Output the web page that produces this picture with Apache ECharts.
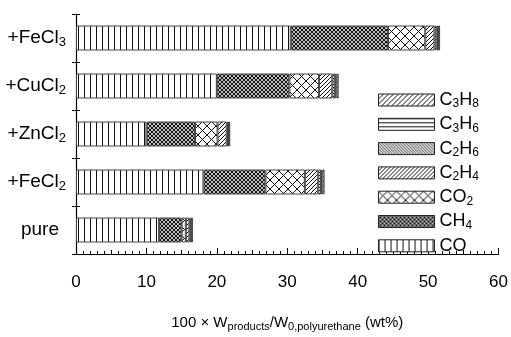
<!DOCTYPE html>
<html><head><meta charset="utf-8">
<script src="https://cdn.jsdelivr.net/npm/echarts@6/dist/echarts.min.js"></script>
<style>html,body{margin:0;padding:0;background:#fff}#c{width:511px;height:337px}</style>
</head><body><div id="c"></div>
<script>
// Categories (bottom to top)
const categories = ['pure', '+FeCl2', '+ZnCl2', '+CuCl2', '+FeCl3'];
const categoryLabels = {
  'pure': '{p|pure}',
  '+FeCl2': '{a|+FeCl}{s|2}',
  '+ZnCl2': '{a|+ZnCl}{s|2}',
  '+CuCl2': '{a|+CuCl}{s|2}',
  '+FeCl3': '{a|+FeCl}{s|3}'
};
// Segment widths (wt%) per category, same order as categories
const CO   = [11.8, 18.1, 10.0, 20.0, 30.5];
const CH4  = [3.2, 8.8, 6.9, 10.3, 13.8];
const CO2  = [0.6, 5.6, 3.2, 4.2, 5.3];
const C2H4 = [0.5, 1.9, 1.3, 1.9, 1.3];
const C2H6 = [0.2, 0.4, 0.2, 0.4, 0.3];
const C3H6 = [0.1, 0.2, 0.1, 0.2, 0.2];
const C3H8 = [0.2, 0.3, 0.2, 0.3, 0.3];
const seriesNames = ['CO', 'CH4', 'CO2', 'C2H4', 'C2H6', 'C3H6', 'C3H8'];
const seriesLabels = {
  'CO': '{a|CO}',
  'CH4': '{a|CH}{s|4}',
  'CO2': '{a|CO}{s|2}',
  'C2H4': '{a|C}{s|2}{a|H}{s|4}',
  'C2H6': '{a|C}{s|2}{a|H}{s|6}',
  'C3H6': '{a|C}{s|3}{a|H}{s|6}',
  'C3H8': '{a|C}{s|3}{a|H}{s|8}'
};
const seriesData = [CO, CH4, CO2, C2H4, C2H6, C3H6, C3H8];
const xTicks = [0, 10, 20, 30, 40, 50, 60];

function mk(size, draw) {
  const c = document.createElement('canvas');
  c.width = size; c.height = size;
  const g = c.getContext('2d');
  g.fillStyle = '#fff'; g.fillRect(0, 0, size, size);
  g.strokeStyle = '#111'; g.lineWidth = 1;
  draw(g, size);
  return { image: c, repeat: 'repeat' };
}
function fwd(g, s) { // '/'
  g.beginPath();
  g.moveTo(0, s); g.lineTo(s, 0);
  g.moveTo(-1, 1); g.lineTo(1, -1);
  g.moveTo(s - 1, s + 1); g.lineTo(s + 1, s - 1);
  g.stroke();
}
function back(g, s) { // '\'
  g.beginPath();
  g.moveTo(0, 0); g.lineTo(s, s);
  g.moveTo(s - 1, -1); g.lineTo(s + 1, 1);
  g.moveTo(-1, s - 1); g.lineTo(1, s + 1);
  g.stroke();
}
const patterns = {
  'CO': mk(6, (g, s) => { g.beginPath(); g.moveTo(0.5, 0); g.lineTo(0.5, s); g.stroke(); }),
  'CH4': mk(4, (g, s) => { g.lineWidth = 1.1; fwd(g, s); back(g, s); }),
  'CO2': mk(9, (g, s) => { fwd(g, s); back(g, s); }),
  'C2H4': mk(4, (g, s) => { fwd(g, s); }),
  'C2H6': mk(3, (g, s) => { back(g, s); }),
  'C3H6': mk(4, (g, s) => { g.beginPath(); g.moveTo(0, 0.5); g.lineTo(s, 0.5); g.stroke(); }),
  'C3H8': mk(5, (g, s) => { fwd(g, s); })
};

const font = 'Liberation Sans, Arial, sans-serif';
const rich = {
  a: { fontSize: 18, fontFamily: font, color: '#000', lineHeight: 14 },
  p: { fontSize: 18, fontFamily: font, color: '#000', lineHeight: 14, padding: [0, 7, 0, 0] },
  s: { fontSize: 12, fontFamily: font, color: '#000', lineHeight: 2, verticalAlign: 'top', padding: [5, 0, 0, 0] }
};
const yRich = {
  a: Object.assign({}, rich.a, { fontSize: 19 }),
  p: Object.assign({}, rich.p, { fontSize: 19 }),
  s: Object.assign({}, rich.s, { fontSize: 13 })
};

const chart = echarts.init(document.getElementById('c'), null, { renderer: 'canvas' });
chart.setOption({
  animation: false,
  backgroundColor: '#fff',
  grid: { left: 76, right: 12, top: 14, bottom: 74, containLabel: false },
  legend: {
    orient: 'vertical',
    left: 373, top: 86,
    itemWidth: 56, itemHeight: 12, itemGap: 5.3,
    icon: 'rect',
    data: seriesNames.slice().reverse(),
    formatter: n => seriesLabels[n],
    textStyle: { rich: rich, padding: [0, 0, 0, 0] },
    itemStyle: { borderColor: '#222', borderWidth: 1 }
  },
  xAxis: [{
    type: 'value', min: 0, max: 60, interval: 10,
    axisLine: { show: true, lineStyle: { color: '#000', width: 1.2 } },
    axisTick: { show: true, inside: true, length: 6, lineStyle: { color: '#000' } },
    minorTick: { show: true, splitNumber: 10, length: 3, lineStyle: { color: '#000' } },
    splitLine: { show: false },
    axisLabel: { fontSize: 17, fontFamily: font, color: '#000', margin: 13, padding: [7, 0, 0, 0],
      formatter: v => xTicks.indexOf(v) >= 0 ? String(v) : '' },
    name: '{a|100 × W}{s|products}{a|/W}{s|0,polyurethane}{a| (wt%)}',
    nameLocation: 'middle', nameGap: 56,
    nameTextStyle: { padding: [4, 0, 0, 0], rich: {
      a: { fontSize: 15, fontFamily: font, color: '#000', lineHeight: 18 },
      s: { fontSize: 11, fontFamily: font, color: '#000', lineHeight: 11, verticalAlign: 'bottom' }
    } }
  }, {
    type: 'value', min: 0, max: 60, interval: 5, position: 'bottom', offset: 0,
    axisLine: { show: false },
    axisTick: { show: true, inside: true, length: 4, lineStyle: { color: '#000' } },
    axisLabel: { show: false }, splitLine: { show: false }
  }],
  yAxis: [{
    type: 'category', data: categories,
    axisLine: { show: true, lineStyle: { color: '#000', width: 1.2 } },
    axisTick: { show: true, inside: false, length: 4, alignWithLabel: false, lineStyle: { color: '#000' } },
    axisLabel: { margin: 10, formatter: v => categoryLabels[v], rich: yRich },
    splitLine: { show: false }
  }, {
    type: 'category', data: categories, position: 'left', offset: 0,
    axisLine: { show: false },
    axisTick: { show: true, inside: true, length: 4, lineStyle: { color: '#000' } },
    axisLabel: { show: false }
  }],
  series: seriesNames.map((n, i) => ({
    name: n, type: 'bar', stack: 'total', barWidth: 25,
    xAxisIndex: 0, yAxisIndex: 0,
    data: seriesData[i],
    itemStyle: { color: patterns[n], borderColor: '#444', borderWidth: 1 }
  }))
});
</script></body></html>
